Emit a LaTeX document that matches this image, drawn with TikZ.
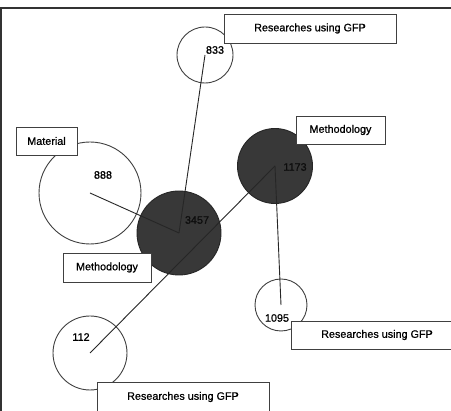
\documentclass[tikz,border=0pt]{standalone}
\usepackage{fontspec}
\setmainfont{Liberation Sans}[FakeBold=0.8]
\begin{document}
\begin{tikzpicture}[x=1pt,y=-1pt,
  bubble/.style={circle,draw=black!75,line width=0.9pt,inner sep=0pt,fill=white},
  darkbubble/.style={circle,draw=black!85,line width=0.9pt,inner sep=0pt,fill=black!78},
  count/.style={inner sep=0pt,font=\fontsize{10.8}{12}\selectfont},
  tag/.style={rectangle,draw=black!75,line width=0.9pt,fill=white,inner sep=0pt,
              font=\fontsize{10.8}{12}\selectfont},
  link/.style={draw=black!85,line width=0.9pt}]
\useasboundingbox (0,0) rectangle (451,411);
\clip (0,0) rectangle (451,411);
\fill[white] (0,0) rectangle (451,411);

% frame
\draw[line width=1.3pt,black!80] (0,8) -- (451,8);
\draw[line width=1.3pt,black!80] (1,8) -- (1,411);

% bubbles
\node[bubble,minimum size=56pt]      (c833)  at (205,55)  {};
\node[bubble,minimum size=102pt]     (c888)  at (90,193)  {};
\node[darkbubble,minimum size=84pt]  (c3457) at (179,233) {};
\node[darkbubble,minimum size=75pt]  (c1173) at (275,166) {};
\node[bubble,minimum size=52pt]      (c1095) at (281,305) {};
\node[bubble,minimum size=74pt]      (c112)  at (90,353)  {};

% links between bubble centres
\draw[link] (c833.center) -- (c3457.center);
\draw[link] (c888.center) -- (c3457.center);
\draw[link] (c1173.center) -- (c112.center);
\draw[link] (c1173.center) -- (c1095.center);

% counts
\node[count] (n833)  at (215,50)  {833};
\node[count] (n888)  at (103,175) {888};
\node[count,text=black!95] (n3457) at (197,220) {3457};
\node[count,text=black!95] (n1173) at (295,167) {1173};
\node[count] (n1095) at (277,318) {1095};
\node[count] (n112)  at (81,337)  {112};

% captions
\node[tag,minimum width=172pt,minimum height=29pt] (t833)  at (310,28.5)  {Researches using GFP};
\node[tag,minimum width=61pt,minimum height=28pt]  (t888)  at (46.5,141)  {Material};
\node[tag,minimum width=88pt,minimum height=29pt]  (t3457) at (107,267.5) {Methodology};
\node[tag,minimum width=89pt,minimum height=28pt]  (t1173) at (340.5,130) {Methodology};
\node[tag,minimum width=172pt,minimum height=28pt] (t1095) at (377,335)   {Researches using GFP};
\node[tag,minimum width=172pt,minimum height=30pt] (t112)  at (183,397)   {Researches using GFP};
\end{tikzpicture}
\end{document}
